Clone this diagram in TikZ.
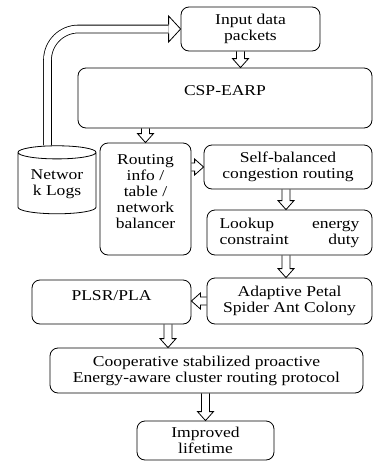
\documentclass[tikz,border=0pt]{standalone}
\usepackage{fontspec}
\setmainfont{Liberation Serif}[FakeStretch=1.17]
\usetikzlibrary{calc,shapes.geometric}

\tikzset{
  box/.style={draw, rounded corners=8pt, align=center, inner sep=2pt},
  shaft half/.store in=\shafthalf, shaft half=4pt,
  head half/.store in=\headhalf, head half=8pt,
  head len/.store in=\headlen, head len=9pt,
  hollow/.style={to path={
    let \p1=(\tikztostart), \p2=(\tikztotarget),
        \n1={atan2(\y2-\y1,\x2-\x1)}, \n2={veclen(\x2-\x1,\y2-\y1)} in
    ([shift={(\p1)},rotate=\n1]0pt,\shafthalf)
    -- ([shift={(\p1)},rotate=\n1]\n2-\headlen,\shafthalf)
    -- ([shift={(\p1)},rotate=\n1]\n2-\headlen,\headhalf)
    -- ([shift={(\p1)},rotate=\n1]\n2,0pt)
    -- ([shift={(\p1)},rotate=\n1]\n2-\headlen,-\headhalf)
    -- ([shift={(\p1)},rotate=\n1]\n2-\headlen,-\shafthalf)
    -- ([shift={(\p1)},rotate=\n1]0pt,-\shafthalf)}},
}

\begin{document}
\begin{tikzpicture}[x=1pt, y=-1pt, line width=0.8pt, font=\fontsize{15}{16}\selectfont]
\useasboundingbox (0,0) rectangle (374,461);

\node[box, minimum width=139pt, minimum height=44pt](input) at (250.5,29){Input data\\packets};
\node[box, minimum width=294pt, minimum height=60pt, text depth=14pt](csp) at (225,98){CSP-EARP};
\node[draw, cylinder, shape border rotate=90, aspect=0.24, minimum width=78pt, minimum height=68pt, align=center, inner sep=1pt](logs) at (57,184){Networ\\k Logs};
\node[box, minimum width=91pt, minimum height=112pt, text depth=14pt](routing) at (145.5,199){Routing\\info /\\table /\\network\\balancer};
\node[box, minimum width=168pt, minimum height=44pt](self) at (288,167){Self-balanced\\congestion routing};
\node[box, minimum width=165pt, minimum height=45pt](lookup) at (289.5,232.5){\makebox[140pt][s]{Lookup\hfill energy}\\\makebox[140pt][s]{constraint\hfill duty}};
\node[box, minimum width=165pt, minimum height=46pt](adapt) at (289.5,301){Adaptive Petal\\Spider Ant Colony};
\node[box, minimum width=159pt, minimum height=44pt, text depth=13pt](plsr) at (111.5,302){PLSR/PLA};
\node[box, minimum width=313pt, minimum height=45pt](coop) at (206.5,370.5){Cooperative stabilized proactive\\Energy-aware cluster routing protocol};
\node[box, minimum width=137pt, minimum height=39pt](life) at (205.5,440.5){Improved\\lifetime};

\coordinate (bighead) at ([xshift=-12pt]input.west);
\draw[double distance=7pt, rounded corners=31pt]([xshift=-9.5pt]logs.north) |- (bighead);
\draw[hollow, shaft half=4.4pt, head half=13pt, head len=12pt](bighead) to (input.west);

\draw[hollow]([xshift=-10pt]input.south) to ([xshift=-10pt]input.south |- csp.north);
\draw[hollow](routing.north |- csp.south) to (routing.north);
\draw[hollow](routing.east |- self.west) to (self.west);
\draw[hollow]([xshift=-2pt]self.south) to ([xshift=-2pt]self.south |- lookup.north);
\draw[hollow]([xshift=-3.5pt]lookup.south) to ([xshift=-3.5pt]lookup.south |- adapt.north);
\draw[hollow](adapt.west) to (adapt.west -| plsr.east);
\draw[hollow]([xshift=56.5pt]plsr.south) to ([xshift=56.5pt]plsr.south |- coop.north);
\draw[hollow](life.north |- coop.south) to (life.north);
\end{tikzpicture}
\end{document}
